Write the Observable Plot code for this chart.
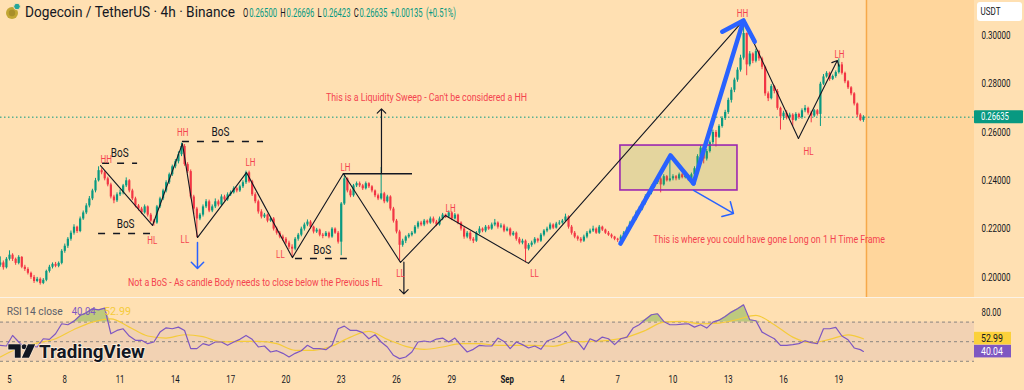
<!DOCTYPE html>
<html><head><meta charset="utf-8">
<script src="https://cdn.jsdelivr.net/npm/d3@7"></script>
<script src="https://cdn.jsdelivr.net/npm/@observablehq/plot@0.6"></script>
<style>
html,body{margin:0;padding:0;background:#FFE0B2;}
#wrap{position:relative;width:1024px;height:390px;overflow:hidden;background:#FFE0B2;}
#wrap svg{position:absolute;left:0;overflow:visible;}
</style></head><body><div id="wrap"></div>
<script>
// ---------------- DATA ----------------
const symbolTitle = "Dogecoin / TetherUS · 4h · Binance";
const startUTC = Date.UTC(2025, 7, 4, 12); // first 4h candle
const open0 = 0.2050;
const closes = [
.2060,.2040,.2075,
.2092,.2075,.2058,.2083,.2042,.2033,
.2017,.2000,.1983,.1992,.1975,.1988,
.2025,.2042,.2054,.2046,.2058,.2108,
.2129,.2158,.2183,.2208,.2190,.2242,
.2267,.2296,.2325,.2358,.2400,.2442,
.2433,.2408,.2383,.2333,.2317,.2342,
.2350,.2379,.2400,.2358,.2325,.2296,
.2283,.2267,.2292,.2258,.2233,.2225,
.2292,.2325,.2358,.2392,.2425,.2458,
.2479,.2508,.2542,.2467,.2438,.2333,
.2283,.2242,.2258,.2292,.2313,.2275,
.2292,.2313,.2300,.2333,.2321,.2342,
.2350,.2367,.2358,.2375,.2392,.2433,
.2396,.2342,.2313,.2271,.2250,.2258,
.2233,.2242,.2200,.2183,.2167,.2158,
.2142,.2125,.2117,.2158,.2175,.2200,
.2217,.2229,.2208,.2188,.2196,.2175,
.2170,.2183,.2167,.2200,.2183,.2146,
.2304,.2408,.2358,.2338,.2379,.2388,
.2379,.2367,.2388,.2375,.2358,.2338,
.2325,.2346,.2313,.2333,.2283,.2233,
.2188,.2133,.2150,.2167,.2175,.2183,
.2208,.2225,.2217,.2233,.2225,.2242,
.2229,.2217,.2242,.2258,.2250,.2267,
.2242,.2258,.2225,.2200,.2167,.2183,
.2158,.2150,.2183,.2200,.2192,.2208,
.2200,.2217,.2225,.2208,.2213,.2192,
.2200,.2175,.2183,.2158,.2142,.2150,
.2117,.2133,.2142,.2158,.2150,.2175,
.2192,.2200,.2217,.2204,.2221,.2225,
.2233,.2250,.2208,.2183,.2167,.2158,
.2150,.2167,.2183,.2192,.2200,.2183,
.2208,.2196,.2183,.2175,.2167,.2158,
.2154,.2167,.2183,.2200,.2225,.2242,
.2267,.2283,.2308,.2333,.2350,.2375,
.2392,.2408,.2383,.2417,.2400,.2408,
.2417,.2408,.2425,.2413,.2421,.2404,
.2425,.2450,.2500,.2535,.2490,.2521,
.2558,.2600,.2580,.2625,.2658,.2683,
.2733,.2775,.2817,.2858,.2908,.3010,
.2880,.2925,.2895,.2935,.2905,.2870,
.2760,.2740,.2790,.2770,.2700,.2665,
.2680,.2660,.2672,.2650,.2675,.2662,
.2690,.2700,.2680,.2668,.2690,.2675,
.2800,.2830,.2845,.2820,.2832,.2848,
.2880,.2845,.2810,.2785,.2760,.2718,
.2672,.2650,.26635];
const highs = [
.2085,.2068,.2082,
.2110,.2098,.2080,.2090,.2086,.2050,
.2040,.2022,.2008,.2000,.1998,.1995,
.2030,.2050,.2060,.2062,.2064,.2115,
.2138,.2165,.2192,.2218,.2212,.2250,
.2275,.2305,.2335,.2365,.2410,.2458,
.2450,.2440,.2415,.2390,.2340,.2350,
.2362,.2385,.2412,.2405,.2365,.2332,
.2302,.2290,.2300,.2296,.2265,.2240,
.2298,.2332,.2365,.2400,.2432,.2465,
.2488,.2520,.2556,.2550,.2475,.2445,
.2340,.2290,.2265,.2300,.2322,.2320,
.2300,.2325,.2320,.2342,.2340,.2350,
.2358,.2375,.2372,.2382,.2400,.2440,
.2440,.2402,.2350,.2320,.2280,.2265,
.2262,.2250,.2248,.2208,.2190,.2175,
.2165,.2150,.2135,.2165,.2182,.2208,
.2225,.2238,.2235,.2212,.2203,.2200,
.2182,.2190,.2188,.2206,.2205,.2190,
.2310,.2430,.2412,.2365,.2385,.2395,
.2395,.2385,.2395,.2392,.2380,.2362,
.2345,.2455,.2352,.2340,.2338,.2290,
.2240,.2195,.2158,.2172,.2182,.2190,
.2215,.2232,.2232,.2240,.2238,.2250,
.2250,.2236,.2250,.2265,.2262,.2275,
.2272,.2265,.2262,.2230,.2208,.2190,
.2190,.2165,.2190,.2210,.2205,.2215,
.2215,.2225,.2240,.2230,.2222,.2220,
.2208,.2205,.2190,.2188,.2165,.2158,
.2155,.2140,.2150,.2165,.2162,.2182,
.2198,.2208,.2225,.2222,.2228,.2235,
.2240,.2262,.2255,.2215,.2190,.2172,
.2165,.2175,.2190,.2200,.2212,.2205,
.2215,.2212,.2200,.2190,.2180,.2170,
.2162,.2175,.2190,.2208,.2232,.2250,
.2275,.2292,.2315,.2342,.2358,.2382,
.2400,.2420,.2415,.2425,.2422,.2490,
.2425,.2422,.2432,.2430,.2428,.2426,
.2432,.2458,.2508,.2545,.2545,.2530,
.2565,.2610,.2608,.2632,.2665,.2692,
.2742,.2785,.2825,.2868,.2920,.3060,
.3012,.2935,.2930,.2945,.2940,.2912,
.2875,.2768,.2798,.2795,.2778,.2705,
.2688,.2690,.2680,.2678,.2682,.2680,
.2698,.2712,.2705,.2688,.2695,.2695,
.2808,.2840,.2852,.2850,.2838,.2855,
.2905,.2890,.2850,.2815,.2790,.2765,
.2722,.2678,.26696];
const lows = [
.2042,.2030,.2035,
.2068,.2066,.2050,.2052,.2036,.2025,
.2010,.1992,.1975,.1978,.1968,.1970,
.1982,.2018,.2035,.2040,.2040,.2052,
.2100,.2120,.2150,.2175,.2182,.2185,
.2236,.2260,.2288,.2318,.2350,.2395,
.2425,.2400,.2375,.2325,.2305,.2310,
.2335,.2342,.2372,.2350,.2318,.2288,
.2275,.2260,.2262,.2250,.2228,.2212,
.2220,.2285,.2318,.2350,.2385,.2418,
.2450,.2470,.2500,.2460,.2430,.2325,
.2260,.2165,.2235,.2250,.2285,.2268,
.2268,.2285,.2292,.2295,.2315,.2315,
.2335,.2345,.2350,.2352,.2368,.2385,
.2390,.2335,.2305,.2262,.2242,.2244,
.2226,.2228,.2192,.2175,.2160,.2150,
.2135,.2115,.2085,.2110,.2150,.2168,
.2192,.2210,.2200,.2180,.2182,.2168,
.2160,.2168,.2160,.2162,.2178,.2138,
.2090,.2298,.2350,.2330,.2332,.2372,
.2372,.2360,.2362,.2368,.2350,.2330,
.2318,.2320,.2305,.2308,.2275,.2225,
.2180,.2065,.2125,.2140,.2160,.2168,
.2178,.2200,.2210,.2210,.2218,.2220,
.2222,.2210,.2212,.2235,.2244,.2245,
.2235,.2238,.2218,.2192,.2158,.2160,
.2150,.2140,.2145,.2178,.2185,.2185,
.2195,.2195,.2210,.2200,.2202,.2185,
.2188,.2168,.2170,.2150,.2135,.2135,
.2060,.2110,.2125,.2135,.2142,.2145,
.2168,.2185,.2195,.2198,.2200,.2215,
.2220,.2228,.2200,.2175,.2160,.2150,
.2142,.2145,.2160,.2178,.2186,.2178,
.2178,.2190,.2178,.2170,.2160,.2152,
.2145,.2150,.2160,.2178,.2195,.2218,
.2235,.2260,.2276,.2300,.2326,.2342,
.2368,.2385,.2350,.2378,.2395,.2395,
.2400,.2400,.2402,.2408,.2408,.2398,
.2398,.2418,.2444,.2492,.2470,.2482,
.2515,.2550,.2540,.2575,.2618,.2650,
.2675,.2722,.2765,.2808,.2850,.2900,
.2835,.2872,.2885,.2888,.2895,.2860,
.2750,.2728,.2735,.2760,.2692,.2610,
.2650,.2652,.2655,.2625,.2645,.2655,
.2655,.2682,.2672,.2640,.2662,.2668,
.2625,.2795,.2825,.2812,.2815,.2825,
.2842,.2838,.2802,.2778,.2752,.2710,
.2662,.2645,.26423];
// RSI(14) read every 2nd candle, then the last candle
const rsiEvery2 = [
46.3,45.6,56.4,49.7,43.6,45.6,44.6,53,52.4,58.1,
68.3,67.3,71,76.8,79.5,83.6,82.5,84.2,58.1,61.5,
63.2,55.8,51.4,51.4,48,49.7,59.8,64.2,63.2,64.9,
61.5,42.9,42.9,48,46.3,49.7,49.7,46.3,49.7,52.4,
56.4,52.4,44.6,45.6,39.5,40.8,38.1,34.4,38.1,40.8,
46.3,42.9,42.9,41.9,46.3,63.2,65.9,61.5,61.5,59.2,
53,57.1,49.7,44.6,36.1,32.7,34.4,39.5,49.7,50.7,
49.7,52.7,53.7,49.7,53.7,46.3,39.5,42.2,46.3,45.6,
45.6,53.7,50.3,42.9,49.7,47,43.6,45.6,42.2,50.7,
53,55.8,60.5,51.4,49.7,41.9,53,50.3,54.7,53,
47,53,54.7,63.9,67.3,72.7,77.5,78.5,70.7,67.3,
67.3,68,68.3,64.9,67.3,63.9,70,72,75.8,80.2,
83.6,87.6,72.4,71.4,59.8,56.4,53,46.3,46.3,47,
48,51,49,48,63.2,63.2,64.6,55.8,52,43.6,41.9];
const rsiLast = 40.04;
// RSI-based MA read every 6th candle, then the last candle
const maEvery6 = [34.4,43.6,48.6,53,62.5,70,73.4,64.9,55.8,53.7,57.1,55.1,49.7,50.3,50.3,48,41.2,41.2,45.6,54.7,
60.5,52.4,45.3,42.2,44.6,48,48,46.3,46.3,46.3,45.3,49.7,50.3,51.4,54.7,61.5,70,70.7,68.3,69,72.7,76.8,67.3,54.7,49,52.4,57];
const maLast = 52.99;
const priceTicks = [0.20, 0.22, 0.24, 0.26, 0.28, 0.30];
const rsiTicks = [80];
const rsiBands = [30, 50, 70];
const dayTicks = ["2025-08-05","2025-08-08","2025-08-11","2025-08-14","2025-08-17","2025-08-20","2025-08-23","2025-08-26","2025-08-29","2025-09-01","2025-09-04","2025-09-07","2025-09-10","2025-09-13","2025-09-16","2025-09-19"];
const dayLabels = ["5","8","11","14","17","20","23","26","29","Sep","4","7","10","13","16","19"];
// annotations: [candle index, price, ...]
const zigzag = [[32.62,.2463],[49.55,.2215],[59.3,.2554],[64.2,.2165],[80.15,.2434],[95.1,.2082],[111.7,.2430],[130.3,.2062],[144.9,.2256],[171.96,.2058],[241.95,.3064],[259.85,.2575]];
const finalLeg = [[259.85,.2575,272.5,.2898]];
const swingLabels = [[34.5,.2487,"HH"],[49.45,.2153,"HL"],[59.4,.2597,"HH"],[60.1,.2156,"LL"],[81.45,.2473,"LH"],[91.2,.2095,"LL"],[112.4,.2454,"LH"],[130.3,.2017,"LL"],[146.6,.2284,"LH"],[173.9,.2017,"LL"],[241.6,.3093,"HH"],[263.1,.2521,"HL"],[273.2,.2923,"LH"]];
const bosLabels = [[38.9,.2514,"BoS"],[40.8,.2222,"BoS"],[71.7,.2601,"BoS"],[104.8,.2114,"BoS"]];
const bosLines = [[33.3,44.7,.2473],[32.0,48.9,.2182],[59.3,85.7,.2563],[96.1,113.0,.2078]];
const sweepLine = [[111.7,134.2,.2429]];
const blackArrows = [[124.1,.2434,124.1,.2698],[131.4,.2063,131.4,.1932]];
const blueArrows = [[64.2,.2145,64.2,.2037],[225.7,.2360,238.7,.2265]];
const bluePath = [[201.9,.2140],[218.2,.2505],[225.7,.2389]];
const blueTip = [[225.7,.2389,241.95,.3064]];
const longBox = [[201.9,240.0,.2360,.2546]];
const notes = [
  [138.75,.2745,"This is a Liquidity Sweep - Can't be considered a HH","middle"],
  [41.6,.1979,"Not a BoS - As candle Body needs to close below the Previous HL","start"],
  [212.6,.2157,"This is where you could have gone Long on 1 H Time Frame","start"]];

// ---------------- RENDER ----------------
const FONT = "Roboto, 'Liberation Sans', 'DejaVu Sans', sans-serif";
const W = 1024, PR = 974, MAIN_H = 297, RSI_TOP = 298, RSI_H = 92;
const UP = "#089981", DN = "#F23645", INK = "#131722", RED = "#F4434F", BLUE = "#2962FF", PURPLE = "#7E57C2", YEL = "#F5CB3A";
const H4 = 4 * 3600e3;
const tOf = i => new Date(startUTC + i * H4);
const xDomain = [new Date(Date.UTC(2025,7,4,12,17)), new Date(Date.UTC(2025,8,26,8,40))];
const yDomain = [0.191677, 0.314658];
const rsiDomain = [20.6, 94.1];

const candles = closes.map((c, i) => {
  const o = i ? closes[i-1] : open0;
  return {t: tOf(i), o, c, h: Math.max(highs[i], o, c), l: Math.min(lows[i], o, c), col: c >= o ? UP : DN};
});
const last = candles[candles.length - 1];
const shadeStart = tOf(closes.length);

const main = Plot.plot({
  width: W, height: MAIN_H, marginLeft: 0, marginTop: 0, marginBottom: 0, marginRight: W - PR,
  style: {background: "transparent", fontFamily: FONT, fontSize: "10px", color: INK},
  x: {type: "utc", domain: xDomain, axis: null},
  y: {domain: yDomain, axis: null},
  marks: [
    Plot.rect([0], {x1: () => shadeStart, x2: () => xDomain[1], y1: () => yDomain[0], y2: () => yDomain[1], fill: "#FFD69C"}),
    Plot.ruleX([shadeStart], {stroke: "#F6A94A", strokeWidth: 1.5}),
    Plot.ruleY([last.c], {stroke: UP, strokeWidth: 1, strokeDasharray: "1.5,2.5"}),
    Plot.ruleX(candles, {x: "t", y1: "l", y2: "h", stroke: "col", strokeWidth: 1}),
    Plot.ruleX(candles, {x: "t", y1: "o", y2: d => Math.abs(d.c - d.o) < 0.00015 ? d.o + (d.c >= d.o ? 0.00015 : -0.00015) : d.c, stroke: "col", strokeWidth: 2.2}),
    Plot.rect(longBox, {x1: d => tOf(d[0]), x2: d => tOf(d[1]), y1: d => d[2], y2: d => d[3], fill: "#5E9E3A", fillOpacity: 0.17, stroke: "#9C27B0", strokeWidth: 1.6}),
    Plot.line(zigzag, {x: d => tOf(d[0]), y: d => d[1], stroke: INK, strokeWidth: 1.1}),
    Plot.arrow(finalLeg, {x1: d => tOf(d[0]), y1: d => d[1], x2: d => tOf(d[2]), y2: d => d[3], stroke: INK, strokeWidth: 1.1, headLength: 8, headAngle: 85}),
    Plot.ruleY(bosLines, {x1: d => tOf(d[0]), x2: d => tOf(d[1]), y: d => d[2], stroke: INK, strokeWidth: 1.5, strokeDasharray: "7,8"}),
    Plot.ruleY(sweepLine, {x1: d => tOf(d[0]), x2: d => tOf(d[1]), y: d => d[2], stroke: INK, strokeWidth: 1.5}),
    Plot.arrow(blackArrows, {x1: d => tOf(d[0]), y1: d => d[1], x2: d => tOf(d[2]), y2: d => d[3], stroke: INK, strokeWidth: 1.2, headLength: 7.5, headAngle: 90}),
    Plot.arrow(blueArrows, {x1: d => tOf(d[0]), y1: d => d[1], x2: d => tOf(d[2]), y2: d => d[3], stroke: BLUE, strokeWidth: 1.5, headLength: 12, headAngle: 90}),
    Plot.line(bluePath, {x: d => tOf(d[0]), y: d => d[1], stroke: BLUE, strokeWidth: 4.5, strokeLinecap: "round", strokeLinejoin: "round"}),
    Plot.arrow(blueTip, {x1: d => tOf(d[0]), y1: d => d[1], x2: d => tOf(d[2]), y2: d => d[3], stroke: BLUE, strokeWidth: 4.5, headLength: 8, headAngle: 90, strokeLinecap: "round", strokeLinejoin: "round"}),
    Plot.text(swingLabels, {x: d => tOf(d[0]), y: d => d[1], text: d => d[2], fill: RED, fontSize: 10}),
    Plot.text(bosLabels, {x: d => tOf(d[0]), y: d => d[1], text: d => d[2], fill: INK, fontSize: 12.5}),
    Plot.text(notes.filter(d => d[3] === "middle"), {x: d => tOf(d[0]), y: d => d[1], text: d => d[2], fill: RED, fontSize: 11, textAnchor: "middle"}),
    Plot.text(notes.filter(d => d[3] === "start"), {x: d => tOf(d[0]), y: d => d[1], text: d => d[2], fill: RED, fontSize: 11, textAnchor: "start"}),
    Plot.axisY({anchor: "right", label: null, ticks: priceTicks, tickFormat: d => d.toFixed(5), tickSize: 0, tickPadding: 7, fontSize: 10, fill: INK})
  ]
});

const rsiPts = rsiEvery2.map((v, k) => ({t: tOf(2 * k), v})).concat([{t: last.t, v: rsiLast}]);
const maPts = maEvery6.map((v, k) => ({t: tOf(6 * k), v})).concat([{t: last.t, v: maLast}]);
const dayLabelMap = new Map(dayTicks.map((d, i) => [+new Date(d), dayLabels[i]]));

const rsi = Plot.plot({
  width: W, height: RSI_H, marginLeft: 0, marginTop: 0, marginBottom: RSI_H - 72, marginRight: W - PR,
  style: {background: "transparent", fontFamily: FONT, fontSize: "10px", color: INK},
  x: {type: "utc", domain: xDomain, axis: null, label: null},
  y: {domain: rsiDomain, axis: null, label: null},
  marks: [
    Plot.rect([0], {x1: () => xDomain[0], x2: () => xDomain[1], y1: () => rsiBands[0], y2: () => rsiBands[2], fill: PURPLE, fillOpacity: 0.1}),
    Plot.ruleY(rsiBands, {stroke: "#8A8580", strokeWidth: 1, strokeDasharray: "3,3"}),
    Plot.areaY(rsiPts, {x: "t", y1: () => 70, y2: d => Math.max(70, d.v), fill: "#6DAE3F", fillOpacity: 0.45}),
    Plot.line(maPts, {x: "t", y: "v", stroke: YEL, strokeWidth: 1.2, curve: "monotone-x"}),
    Plot.line(rsiPts, {x: "t", y: "v", stroke: PURPLE, strokeWidth: 1.2}),
    Plot.axisY({anchor: "right", label: null, ticks: rsiTicks, tickFormat: d => d.toFixed(2), tickSize: 0, tickPadding: 7, fontSize: 10, fill: INK}),
    Plot.axisX({label: null, ticks: dayTicks.map(d => new Date(d)), tickFormat: d => dayLabelMap.get(+d), tickSize: 0, tickPadding: 5, fontSize: 10, fill: INK})
  ]
});

const wrap = document.getElementById("wrap");
main.style.top = "0px";
rsi.style.top = RSI_TOP + "px";
wrap.appendChild(main);
wrap.appendChild(rsi);

// bold month label
rsi.querySelectorAll("text").forEach(t => { if (t.textContent === "Sep") t.setAttribute("font-weight", "bold"); });

// horizontally condensed glyphs like the reference screenshot (scaled about each text's own anchor x)
function squeeze(t, f) {
  const x = parseFloat(t.getAttribute("x")) || 0;
  const tr = t.getAttribute("transform") || "";
  t.setAttribute("transform", (tr + ` translate(${x},0) scale(${f.toFixed(4)},1) translate(${-x},0)`).trim());
}
function condense(svg, f) { svg.querySelectorAll("text").forEach(t => squeeze(t, f)); }
function fitWidth(sel, w) { const L = sel.node().getComputedTextLength(); if (L > 0) squeeze(sel.node(), w / L); return sel; }
condense(main, 0.8);
condense(rsi, 0.78);

// ---------------- overlay (header, labels, watermark) ----------------
const yMain = main.scale("y"), yRsi = rsi.scale("y");
const ov = d3.create("svg").attr("width", W).attr("height", 390).style("top", "0px").style("pointer-events", "none")
  .attr("font-family", FONT);
wrap.appendChild(ov.node());
// pane separator
ov.append("rect").attr("x", 0).attr("y", 297).attr("width", W).attr("height", 1).attr("fill", "#FBF2E6");
// coin icon
ov.append("circle").attr("cx", 12).attr("cy", 13).attr("r", 6).attr("fill", "#C2A633");
ov.append("circle").attr("cx", 12).attr("cy", 13).attr("r", 3.2).attr("fill", "#A88E2A");
ov.append("circle").attr("cx", 17).attr("cy", 6.5).attr("r", 3.3).attr("fill", "#26A69A").attr("stroke", "#FFE0B2").attr("stroke-width", 1);
// title
fitWidth(ov.append("text").attr("x", 25).attr("y", 17).attr("font-size", 15).attr("fill", INK).text(symbolTitle), 210);
// OHLC line from last candle: pieces laid out naturally inside a horizontally scaled group
const chg = last.c - last.o;
const fmt = v => v.toFixed(5);
const parts = [["O", INK, 1.5], [fmt(last.o), UP, 5], ["H", INK, 1.5], [fmt(last.h), UP, 5], ["L", INK, 1.5], [fmt(last.l), UP, 5], ["C", INK, 1.5],
 [fmt(last.c), UP, 5], [(chg >= 0 ? "+" : "") + fmt(chg), UP, 5], ["(" + (chg >= 0 ? "+" : "") + (chg / last.o * 100).toFixed(2) + "%)", UP, 0]];
const og = ov.append("g");
let cx = 0;
parts.forEach(([s, c, gap]) => {
  const n = og.append("text").attr("x", cx).attr("y", 0).attr("font-size", 12).attr("fill", c).text(s);
  cx += n.node().getComputedTextLength() + gap;
});
og.attr("transform", `translate(243,16.5) scale(${(213 / cx).toFixed(4)},1)`);
// USDT box
ov.append("rect").attr("x", 977).attr("y", 2).attr("width", 45).attr("height", 19).attr("rx", 3).attr("fill", "#FFFFFF");
fitWidth(ov.append("text").attr("x", 980.5).attr("y", 15).attr("font-size", 10.5).attr("fill", INK).text("USDT"), 20);
// last price label
const py = yMain.apply(last.c);
ov.append("rect").attr("x", PR).attr("y", py - 6.5).attr("width", 49).attr("height", 13).attr("rx", 1).attr("fill", UP);
fitWidth(ov.append("text").attr("x", 981).attr("y", py + 3.6).attr("font-size", 10).attr("fill", "#FFFFFF").text(fmt(last.c)), 28);
// RSI legend
const rl = [["RSI 14 close", "#5D606B", 6.7, 56], [rsiLast.toFixed(2), PURPLE, 71.7, 24], [maLast.toFixed(2), YEL, 104, 27]];
rl.forEach(([s, c, x, w]) => fitWidth(ov.append("text").attr("x", x).attr("y", 315.5).attr("font-size", 11).attr("fill", c).text(s), w));
// RSI value boxes
let yMa = RSI_TOP + yRsi.apply(maLast), yR = RSI_TOP + yRsi.apply(rsiLast);
if (yR - yMa < 13) { const m = (yR + yMa) / 2; yMa = m - 6.5; yR = m + 6.5; }
[[maLast, yMa, "#FBD13B", INK], [rsiLast, yR, PURPLE, "#FFFFFF"]].forEach(([v, y, bg, fg]) => {
  ov.append("rect").attr("x", PR).attr("y", y - 6.3).attr("width", 37).attr("height", 12.6).attr("fill", bg);
  fitWidth(ov.append("text").attr("x", 981).attr("y", y + 3.6).attr("font-size", 10).attr("fill", fg).text(v.toFixed(2)), 22);
});
// TradingView watermark
const logo = ov.append("g").attr("fill", INK).attr("stroke", "#FFF3E3").attr("stroke-width", 1.2).attr("paint-order", "stroke");
logo.append("path").attr("d", "M8.3 344.3 H20.7 V357.7 H14.8 V349.6 H8.3 Z");
logo.append("circle").attr("cx", 24.2).attr("cy", 346.8).attr("r", 2.5);
logo.append("path").attr("d", "M28 344.3 H35.2 L29 357.7 H21.8 Z");
fitWidth(ov.append("text").attr("x", 39).attr("y", 357.8).attr("font-size", 18.5).attr("font-weight", "bold").attr("fill", INK)
  .attr("stroke", "#FFF3E3").attr("stroke-width", 1.5).attr("paint-order", "stroke").text("TradingView"), 106);
</script></body></html>
